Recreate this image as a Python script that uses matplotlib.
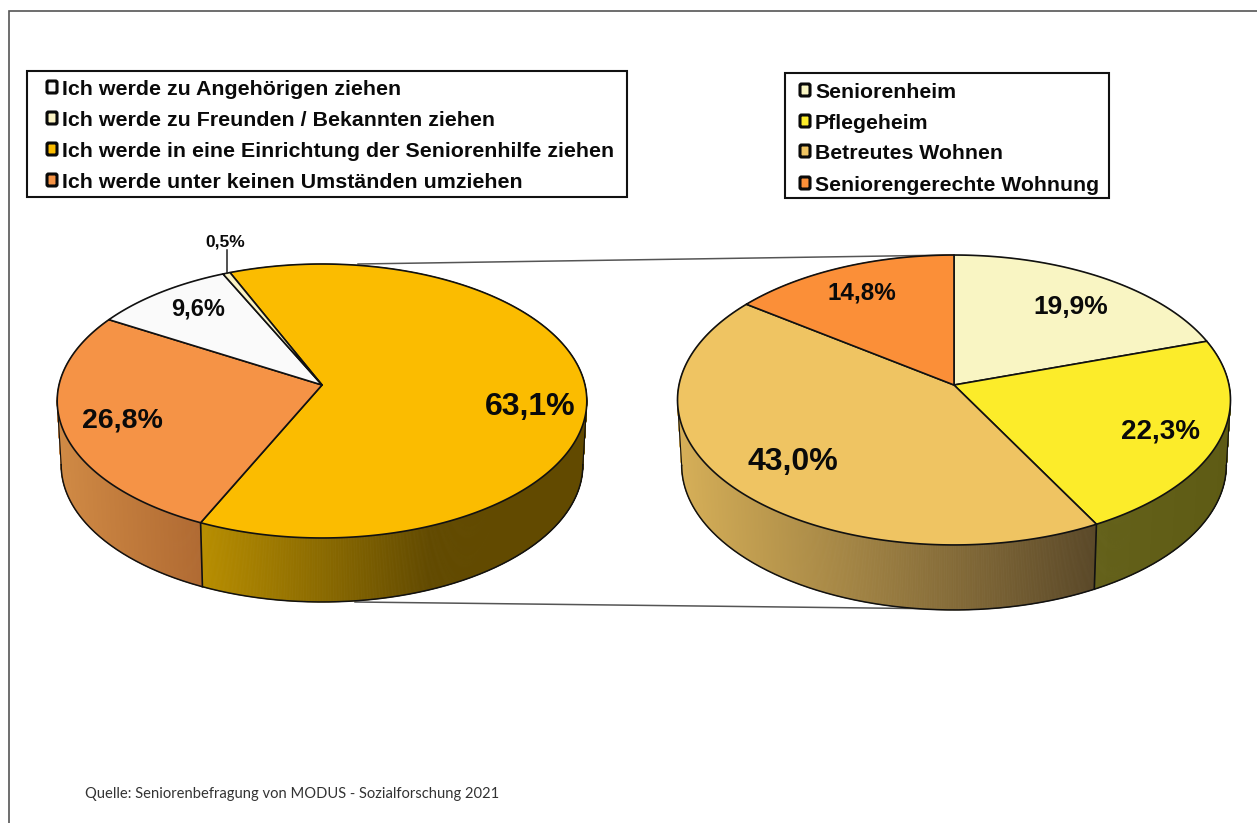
import numpy as np
import matplotlib
matplotlib.use("Agg")
import matplotlib.pyplot as plt
from matplotlib.patches import Polygon, Rectangle, FancyBboxPatch
from matplotlib.collections import PolyCollection
from matplotlib.colors import to_rgb

# ---- data ----
left_values = [63.1, 26.8, 9.6, 0.5]
left_labels = ["63,1%", "26,8%", "9,6%", "0,5%"]
left_legend = ["Ich werde zu Angehörigen ziehen",
               "Ich werde zu Freunden / Bekannten ziehen",
               "Ich werde in eine Einrichtung der Seniorenhilfe ziehen",
               "Ich werde unter keinen Umständen umziehen"]
right_values = [19.9, 22.3, 43.0, 14.8]
right_labels = ["19,9%", "22,3%", "43,0%", "14,8%"]
right_legend = ["Seniorenheim", "Pflegeheim", "Betreutes Wohnen", "Seniorengerechte Wohnung"]
source = "Quelle: Seniorenbefragung von MODUS - Sozialforschung 2021"

# ---- styles ----
left_colors = ["#FBBC00", "#F59346", "#FAFAFA", "#FBF3C4"]
left_legend_colors = ["#FAFAFA", "#FBF3C4", "#FBBC00", "#F59346"]
left_side = [("#B88E00", "#624A00"), ("#D08A45", "#B06A32"), ("#C8C8C8", "#C8C8C8"), ("#C8C0A0", "#C8C0A0")]
right_colors = ["#F9F5C3", "#FCEC2A", "#EFC462", "#FB8F38"]
right_side = [("#C8C498", "#C8C498"), ("#64611A", "#5E5B14"), ("#D6AF58", "#5A4828"), ("#C87030", "#C87030")]

fig = plt.figure(figsize=(12.57, 8.23), dpi=100)
ax = fig.add_axes([0, 0, 1, 1])
ax.set_xlim(0, 1257)
ax.set_ylim(823, 0)
ax.axis("off")
BOLD = "Liberation Sans"
SHRINK = 0.985


def project(a, hub, rx, k, p):
    u, v = np.sin(a), np.cos(a)
    w = 1 + p * v
    return hub[0] + rx * u / w, hub[1] - k * v / w


def mix(c1, c2, t):
    a, b = np.array(to_rgb(c1)), np.array(to_rgb(c2))
    return tuple(a + (b - a) * np.clip(t, 0, 1))


def pie3d(values, colors, sides, hub, rx, k, p, depth, start_deg, xfade=None):
    fr = np.cumsum([0] + list(values)) / sum(values)
    angs = np.deg2rad(start_deg) + fr * 2 * np.pi
    low = lambda xx: hub[0] + (xx - hub[0]) * SHRINK
    # side walls
    for i in range(len(values)):
        aa = np.linspace(angs[i], angs[i + 1], max(int((angs[i + 1] - angs[i]) * 240), 2))
        x, y = project(aa, hub, rx, k, p)
        polys, cols = [], []
        x0, x1 = x.min(), x.max()
        stop = xfade[i] if xfade and xfade[i] else x1
        for j in range(len(aa) - 1):
            polys.append([(x[j], y[j]), (x[j + 1], y[j + 1]),
                          (low(x[j + 1]), y[j + 1] + depth), (low(x[j]), y[j] + depth)])
            cols.append(mix(sides[i][0], sides[i][1], ((x[j] + x[j + 1]) / 2 - x0) / max(stop - x0, 1)))
        ax.add_collection(PolyCollection(polys, facecolors=cols, edgecolors=cols, linewidths=0.6, zorder=2))
    # outer lower edge
    aa = np.linspace(0, 2 * np.pi, 720)
    x, y = project(aa, hub, rx, k, p)
    i0, i1 = np.argmax(x), np.argmin(x)
    lo = np.arange(i0, i1 + 1)
    ax.plot(low(x[lo]), y[lo] + depth, color="#111111", lw=1.1, zorder=3)
    ax.plot([x[i0], low(x[i0])], [y[i0], y[i0] + depth], color="#111111", lw=0.8, zorder=3)
    ax.plot([x[i1], low(x[i1])], [y[i1], y[i1] + depth], color="#111111", lw=0.8, zorder=3)
    # top faces
    for i in range(len(values)):
        aa = np.linspace(angs[i], angs[i + 1], max(int((angs[i + 1] - angs[i]) * 240), 2))
        x, y = project(aa, hub, rx, k, p)
        pts = np.column_stack([np.r_[hub[0], x], np.r_[hub[1], y]])
        ax.add_patch(Polygon(pts, closed=True, facecolor=colors[i], edgecolor="#111111",
                             lw=1.2, joinstyle="round", zorder=4))
        xe, ye = project(angs[i], hub, rx, k, p)
        if ye > hub[1] + 10:
            ax.plot([xe, low(xe)], [ye, ye + depth], color="#111111", lw=1.2, zorder=3)


pie3d(left_values, left_colors, left_side, (322, 385), 263, 135.1, 0.1168, 64, 337.2, xfade=[430, None, None, None])
pie3d(right_values, right_colors, right_side, (954, 385), 275, 143.4, 0.1034, 65, 0)

# connector lines
ax.plot([358, 954], [264, 255], color="#555555", lw=1.1, zorder=1)
ax.plot([355, 955], [602, 609], color="#555555", lw=1.1, zorder=1)

# leader
ax.plot([227, 227], [250, 273], color="#222222", lw=1.1, zorder=5)

# value labels
lab = dict(family=BOLD, weight="bold", ha="center", va="center", color="#0a0a0a", zorder=6)
for s, (x, y), fs in zip(left_labels, [(530, 407), (122, 420), (198, 309), (225, 242)], [23, 20.5, 17, 12.5]):
    ax.text(x, y, s, fontsize=fs, **lab)
for s, (x, y), fs in zip(right_labels, [(1071, 307), (1161, 431), (793, 462), (862, 293)], [19, 20, 23, 17.5]):
    ax.text(x, y, s, fontsize=fs, **lab)


def legend(box, items, colors, mx, tx, ys, fs):
    x0, y0, x1, y1 = box
    ax.add_patch(Rectangle((x0, y0), x1 - x0, y1 - y0, facecolor="white", edgecolor="#111111", lw=1.5, zorder=6))
    for s, c, y in zip(items, colors, ys):
        ax.add_patch(FancyBboxPatch((mx + 2, y - 6), 10, 12, boxstyle="round,pad=0,rounding_size=1.5",
                                    facecolor=c, edgecolor="#0a0a0a", lw=2.2, zorder=7))
        ax.text(tx, y, s, family=BOLD, weight="bold", fontsize=fs, va="center_baseline", ha="left",
                color="#0a0a0a", zorder=7)


legend((27, 71, 627, 197), left_legend, left_legend_colors, 45, 62, [87, 118, 149, 180], 15.4)
legend((785, 73, 1109, 198), right_legend, right_colors, 798, 815, [90, 121, 151, 183], 15.35)

# frame of the picture
ax.plot([1257, 9, 9], [10.5, 10.5, 823], color="#555555", lw=1.2, zorder=1, solid_joinstyle="miter")

ax.text(85, 794, source, family="Lato", fontsize=10.6, va="center", ha="left", color="#333333", zorder=6)

fig.savefig("out.png", dpi=100, facecolor="white")
